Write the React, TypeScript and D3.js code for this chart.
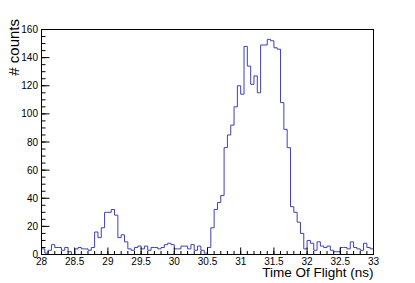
import React from 'react';
import * as d3 from 'd3';

// histogram: 100 bins of 0.05 ns between 28 and 33
const xMin = 28;
const xMax = 33;
const binWidth = 0.05;
const counts = [
  4, 1, 3, 7, 5, 5, 3, 5, 2, 0, 4, 5, 4, 4, 3, 5,
  16, 12, 19, 30, 30, 32, 28,
  12, 14, 9, 4, 3, 5, 6, 4, 6, 3, 5, 5, 4, 5, 7, 8, 7,
  4, 4, 6, 6, 4, 7, 3, 6, 3, 1, 5,
  19, 32, 37, 42, 76, 85, 92, 105, 120, 114, 148, 134, 121, 127, 115,
  149, 149, 153, 152, 147, 146, 108, 89, 76, 34, 30, 23, 15,
  4, 10, 8, 3, 9, 6, 5, 6, 3, 2, 2, 5, 5, 4, 9, 5, 4, 3, 8, 5, 4,
];
const yMax = 160;
const xTitle = 'Time Of Flight (ns)';
const yTitle = '# counts';

const W = 415;
const H = 283;
const frame = { left: 41.5, right: 373.5, top: 29.5, bottom: 254.5 };
const font = '"Liberation Sans", Arial, Helvetica, sans-serif';

const App = () => {
  const x = d3.scaleLinear().domain([xMin, xMax]).range([frame.left, frame.right]);
  const y = d3.scaleLinear().domain([0, yMax]).range([frame.bottom, frame.top]);

  // step outline like ROOT's HIST option
  let path = `M${x(xMin)},${y(0)}`;
  counts.forEach((c, i) => {
    const x0 = x(xMin + i * binWidth);
    const x1 = x(xMin + (i + 1) * binWidth);
    path += `L${x0},${y(c)}L${x1},${y(c)}`;
  });
  path += `L${x(xMax)},${y(0)}`;

  const xMajor = x.ticks(10);
  const xMinor = x.ticks(50);
  const yMajor = y.ticks(8);
  const yMinor = y.ticks(40);
  const fmt = (d: number) => String(+d.toFixed(2));

  return (
    <svg width={W} height={H} style={{ position: 'absolute', left: 0, top: 0, background: '#fff' }}>
      <rect x={0} y={0} width={W} height={H} fill="#fff" />

      <path d={path} fill="none" stroke="#3f3fc2" strokeWidth={1} />

      {/* x axis ticks, drawn inside the frame */}
      {xMinor.map((t, i) => (
        <line key={'xm' + i} x1={x(t)} x2={x(t)} y1={frame.bottom} y2={frame.bottom - 3.5} stroke="#000" strokeWidth={1} />
      ))}
      {xMajor.map((t, i) => (
        <line key={'xM' + i} x1={x(t)} x2={x(t)} y1={frame.bottom} y2={frame.bottom - 7} stroke="#000" strokeWidth={1} />
      ))}
      {xMajor.map((t, i) => (
        <text key={'xl' + i} x={x(t)} y={265} textAnchor="middle" fontFamily={font} fontSize={10} fill="#000">
          {fmt(t)}
        </text>
      ))}

      {/* y axis ticks */}
      {yMinor.map((t, i) => (
        <line key={'ym' + i} x1={frame.left} x2={frame.left + 4} y1={y(t)} y2={y(t)} stroke="#000" strokeWidth={1} />
      ))}
      {yMajor.map((t, i) => (
        <line key={'yM' + i} x1={frame.left} x2={frame.left + 8} y1={y(t)} y2={y(t)} stroke="#000" strokeWidth={1} />
      ))}
      {yMajor.map((t, i) => (
        <text key={'yl' + i} x={38} y={y(t) + 3.5} textAnchor="end" fontFamily={font} fontSize={10} fill="#000">
          {fmt(t)}
        </text>
      ))}

      <rect
        x={frame.left}
        y={frame.top}
        width={frame.right - frame.left}
        height={frame.bottom - frame.top}
        fill="none"
        stroke="#000"
        strokeWidth={1}
      />

      <text x={frame.right} y={276.5} textAnchor="end" fontFamily={font} fontSize={13.5} fill="#000">
        {xTitle}
      </text>
      <text
        transform={`translate(19,19) rotate(-90)`}
        textAnchor="end"
        fontFamily={font}
        fontSize={15}
        fill="#000"
      >
        {yTitle}
      </text>
    </svg>
  );
};

export default App;
